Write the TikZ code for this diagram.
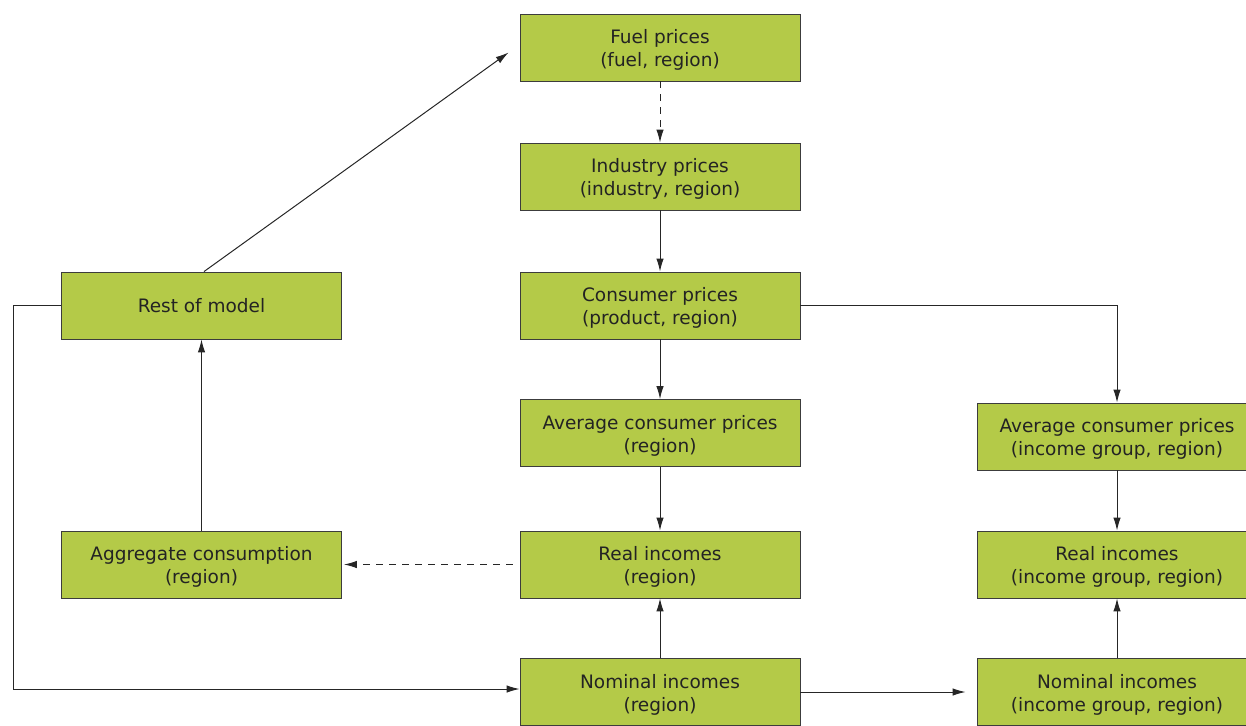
\documentclass[tikz,border=0pt]{standalone}
\usepackage{fontspec}
\setmainfont{DejaVu Sans}
\usetikzlibrary{arrows.meta,calc}
\definecolor{boxgreen}{RGB}{180,202,72}
\definecolor{edgegrey}{RGB}{60,60,60}
\definecolor{txtgrey}{RGB}{35,35,35}
\begin{document}
\begin{tikzpicture}[x=1pt,y=-1pt,
  box/.style={draw=edgegrey,line width=0.9pt,fill=boxgreen,minimum width=280pt,minimum height=67pt,
    inner sep=0pt,align=center,text=txtgrey,font=\fontsize{18.5}{23}\selectfont},
  lbl/.style={inner sep=0pt,align=center,text=txtgrey,font=\fontsize{18.5}{23}\selectfont,yshift=-2.5pt},
  arr/.style={draw=black!85,line width=1pt,-{Latex[length=13pt,width=7.5pt]}},
  darr/.style={arr,dash pattern=on 7pt off 6pt}]
\useasboundingbox (0,0) rectangle (1246,725);
\node[box,label={[lbl]center:{Fuel prices\\(fuel, region)}}] (fuel) at (660,47.5) {};
\node[box,label={[lbl]center:{Industry prices\\(industry, region)}}] (industry) at (660,176.5) {};
\node[box,label={[lbl]center:{Consumer prices\\(product, region)}}] (consumer) at (660,305.5) {};
\node[box,label={[lbl]center:{Average consumer prices\\(region)}}] (avg) at (660,433) {};
\node[box,label={[lbl]center:{Real incomes\\(region)}}] (real) at (660,564.5) {};
\node[box,label={[lbl]center:{Nominal incomes\\(region)}}] (nominal) at (660,692) {};
\node[box] (rest) at (201.5,305.5) {Rest of model};
\node[box,label={[lbl]center:{Aggregate consumption\\(region)}}] (agg) at (201.5,564.5) {};
\node[box,label={[lbl]center:{Average consumer prices\\(income group, region)}}] (avgI) at (1117,436.5) {};
\node[box,label={[lbl]center:{Real incomes\\(income group, region)}}] (realI) at (1117,564.5) {};
\node[box,label={[lbl]center:{Nominal incomes\\(income group, region)}}] (nomI) at (1117,692) {};
\coordinate (fueltip) at ($(fuel.west)+(-11,5)$);
\coordinate (loopA) at (13,305.5);
\coordinate (loopB) at (13,689);
\draw[arr] ($(rest.north)+(2.5,0)$) -- (fueltip);
\draw[darr] (fuel) -- (industry);
\draw[arr] (industry) -- (consumer);
\draw[arr] (consumer) -- (avg);
\draw[arr] (consumer.east) -| (avgI.north);
\draw[arr] (avg) -- (real);
\draw[darr] ($(real.west)+(-7,0)$) -- ($(agg.east)+(2,0)$);
\draw[arr] (agg) -- (rest);
\draw[arr] (rest.west) -- (loopA) -- (loopB) -- ($(nominal.west)+(0,-3)$);
\draw[arr] (nominal) -- (real);
\draw[arr] (nominal.east) -- ($(nomI.west)+(-11,0)$);
\draw[arr] (nomI) -- (realI);
\draw[arr] (avgI) -- (realI);
\end{tikzpicture}
\end{document}
